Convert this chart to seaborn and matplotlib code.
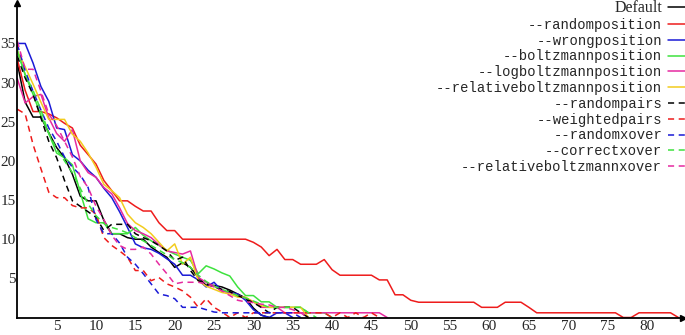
import matplotlib
matplotlib.use("Agg")
import matplotlib.pyplot as plt
import pandas as pd
import seaborn as sns

labels = ["Default", "--randomposition", "--wrongposition", "--boltzmannposition",
          "--logboltzmannposition", "--relativeboltzmannposition", "--randompairs",
          "--weightedpairs", "--randomxover", "--correctxover", "--relativeboltzmannxover"]

default = [32.5, 27.5, 25.6, 25.6, 23.6, 21.7, 20.4, 18.3, 15.5, 14.9,
           14.9, 12.4, 10.7, 10.7, 10.2, 10.0, 10.0, 9.0, 8.3, 7.7,
           6.4, 7.0, 6.4, 5.1, 4.1, 4.1, 3.9, 3.5, 3.0, 2.5,
           1.2, 0.3, 0.0]

randomposition = [33.0, 29.0, 26.3, 26.3, 26.0, 25.5, 24.8, 24.2, 22.0, 20.8,
                  19.6, 17.5, 16.2, 14.9, 14.9, 14.2, 13.6, 13.6, 12.1, 11.1,
                  11.1, 10.0, 10.0, 10.0, 10.0, 10.0, 10.0, 10.0, 10.0, 10.0,
                  9.6, 9.0, 7.9, 8.7, 7.4, 7.4, 6.8, 6.8, 6.8, 7.4,
                  6.1, 5.4, 5.4, 5.4, 5.4, 5.4, 4.8, 4.8, 2.9, 2.9,
                  2.2, 1.95, 1.95, 1.95, 1.95, 1.95, 1.95, 1.95, 1.95, 1.3,
                  1.3, 1.3, 1.95, 1.95, 1.95, 1.3, 0.6, 0.6, 0.6, 0.6,
                  0.6, 0.6, 0.6, 0.6, 0.6, 0.6, 0.6, 0.0, 0.0, 0.6,
                  0.6, 0.6, 0.6, 0.6, 0.0]

wrongposition = [35.0, 35.0, 32.5, 29.5, 27.6, 24.2, 24.0, 20.8, 20.0, 18.8,
                 17.9, 16.5, 15.3, 13.5, 11.5, 9.4, 8.9, 8.7, 8.2, 7.5,
                 6.8, 5.4, 5.4, 4.8, 3.9, 4.5, 3.4, 3.2, 3.0, 2.2,
                 1.0, 0.3, 0.0, 0.6, 0.6, 0.0]

boltzmannposition = [34.2, 31.0, 28.5, 25.8, 23.5, 21.0, 20.4, 19.5, 16.0, 12.6,
                     12.1, 12.1, 10.7, 10.7, 10.7, 11.5, 10.5, 9.8, 9.2, 8.6,
                     8.1, 7.7, 7.3, 5.6, 6.6, 6.2, 5.7, 5.3, 3.9, 2.8,
                     2.8, 2.0, 2.0, 1.3, 1.3, 1.3, 1.3, 0.6, 0.6, 0.6,
                     0.0]

logboltzmannposition = [30.5, 27.4, 28.2, 28.5, 25.5, 23.5, 22.5, 24.0, 20.0, 18.5,
                        17.9, 16.6, 15.8, 14.0, 12.0, 11.1, 10.7, 10.2, 9.3, 8.5,
                        8.3, 8.1, 8.5, 5.1, 4.5, 4.0, 3.4, 3.2, 2.8, 2.5,
                        2.0, 1.3, 1.3, 1.3, 0.6, 0.6, 0.6, 0.6, 0.6, 0.6,
                        0.6, 0.6, 0.6, 0.6, 0.6, 0.6, 0.6, 0.0]

relativeboltzmannposition = [34.0, 32.0, 29.8, 27.5, 25.3, 25.3, 25.3, 23.4, 22.5, 21.0,
                             19.2, 17.0, 16.2, 15.3, 13.2, 12.1, 11.5, 10.7, 9.6, 8.5,
                             9.4, 6.8, 7.7, 4.7, 4.0, 3.6, 3.2, 3.0, 2.6, 2.6,
                             2.0, 1.5, 1.3, 1.3, 1.3, 1.3, 1.3, 0.0]

randompairs = [33.4, 30.6, 28.5, 25.5, 22.5, 20.4, 17.5, 14.9, 14.2, 13.5,
               12.8, 11.1, 11.9, 11.9, 11.9, 10.7, 10.2, 9.8, 9.2, 8.5,
               7.3, 7.7, 6.0, 4.7, 4.3, 3.9, 3.6, 3.3, 2.8, 2.4,
               1.9, 1.3, 0.6, 1.3, 1.3, 1.3, 0.6, 0.0]

weightedpairs = [26.6, 26.0, 22.1, 19.0, 16.0, 15.3, 15.3, 14.3, 14.0, 14.0,
                 13.2, 10.2, 9.2, 8.5, 7.7, 6.0, 6.0, 4.7, 5.1, 4.3,
                 3.9, 3.4, 2.6, 1.3, 2.4, 1.3, 0.7, 0.0, 0.6, 0.0,
                 0.6, 0.6, 0.6, 0.6, 0.6, 0.6, 0.6, 0.6, 0.6, 0.6,
                 0.0, 0.6, 0.0, 0.6, 0.0, 0.6, 0.0]

randomxover = [34.9, 31.5, 28.9, 26.5, 24.2, 22.5, 20.5, 19.2, 18.2, 16.6,
               12.5, 10.7, 10.7, 9.5, 7.7, 6.8, 5.6, 4.3, 3.0, 2.8,
               2.4, 1.3, 1.3, 1.3, 1.0, 0.7, 0.6, 0.6, 0.6, 0.6,
               0.6, 0.6, 0.6, 0.6, 0.6, 0.6, 0.0]

correctxover = [34.0, 31.0, 29.0, 26.5, 23.5, 21.5, 20.0, 18.5, 16.5, 14.5,
                13.0, 12.0, 11.5, 11.2, 10.8, 10.2, 9.8, 9.2, 8.6, 8.0,
                7.4, 7.0, 6.4, 5.4, 4.6, 4.0, 3.6, 3.2, 2.8, 2.5,
                2.1, 1.7, 1.3, 1.3, 1.3, 1.3, 1.3, 0.6, 0.0]

relativeboltzmannxover = [35.3, 31.7, 31.7, 28.9, 26.0, 24.5, 22.5, 20.5, 18.0, 16.6,
                          14.2, 12.5, 10.5, 9.2, 8.7, 8.7, 9.0, 8.1, 6.8, 5.6,
                          4.3, 4.5, 4.5, 4.5, 4.3, 3.9, 3.4, 2.8, 2.2, 2.0,
                          1.9, 1.7, 1.6, 1.3, 1.3, 1.0, 0.6, 0.0]

series_values = [default, randomposition, wrongposition, boltzmannposition,
                 logboltzmannposition, relativeboltzmannposition, randompairs,
                 weightedpairs, randomxover, correctxover, relativeboltzmannxover]

colors = ["#000000", "#ee1c1c", "#1a1ad6", "#3ee23e", "#e62aa0", "#f2cc1e",
          "#000000", "#ee1c1c", "#1a1ad6", "#3ee23e", "#e62aa0"]
is_dashed = [False, False, False, False, False, False, True, True, True, True, True]

xticks = [5, 10, 15, 20, 25, 30, 35, 40, 45, 50, 55, 60, 65, 70, 75, 80]
yticks = [5, 10, 15, 20, 25, 30, 35]

rows = []
for lab, vals in zip(labels, series_values):
    for i, v in enumerate(vals):
        rows.append((i, v, lab))
df = pd.DataFrame(rows, columns=["generation", "value", "series"])

sns.set_style("white")
plt.rcParams["font.family"] = ["Liberation Serif", "DejaVu Serif"]

W, H = 685, 335
fig = plt.figure(figsize=(W / 100, H / 100), dpi=100)
x0, y0, x1, y1 = 17.3, 317.5, 683, 3.3
ax = fig.add_axes([x0 / W, (H - y0) / H, (x1 - x0) / W, (y0 - y1) / H])

palette = dict(zip(labels, colors))
dashes = {lab: ((4, 3) if d else "") for lab, d in zip(labels, is_dashed)}

sns.lineplot(data=df, x="generation", y="value", hue="series", style="series",
             hue_order=labels, style_order=labels, palette=palette, dashes=dashes,
             linewidth=1.1, ax=ax, legend="auto", estimator=None, sort=False)

ax.set_xlim(0, (x1 - x0) / 7.87)
ax.set_ylim(0, (y0 - y1) / 7.83)
ax.set_xticks(xticks)
ax.set_yticks(yticks)
ax.set_xticklabels([str(t) for t in xticks])
ax.set_yticklabels([str(t) for t in yticks])
ax.tick_params(axis="both", length=0, labelsize=11)
ax.tick_params(axis="x", pad=2)
ax.tick_params(axis="y", pad=1)
ax.set_xlabel("")
ax.set_ylabel("")
for s in ["top", "right"]:
    ax.spines[s].set_visible(False)
for s in ["left", "bottom"]:
    ax.spines[s].set_color("black")
    ax.spines[s].set_linewidth(1.3)
ax.plot([1], [0], marker=">", color="black", ms=4, transform=ax.transAxes, clip_on=False)
ax.plot([0], [1], marker="^", color="black", ms=4, transform=ax.transAxes, clip_on=False)

handles, labs = ax.get_legend_handles_labels()
pairs = [(h, l) for h, l in zip(handles, labs) if l in labels]
leg = ax.legend([p[0] for p in pairs], [p[1] for p in pairs],
                loc="upper right", bbox_to_anchor=(690 / W, 1.0),
                bbox_transform=fig.transFigure, markerfirst=False, frameon=False,
                borderpad=0, borderaxespad=0, handlelength=1.6, handletextpad=0.4,
                labelspacing=0.13, fontsize=10)
for t in leg.get_texts():
    if t.get_text() == "Default":
        t.set_fontfamily(["Liberation Serif"])
        t.set_fontsize(11.5)
    else:
        t.set_fontfamily(["Liberation Mono"])
        t.set_fontsize(10)

fig.savefig("out.png", dpi=100)
